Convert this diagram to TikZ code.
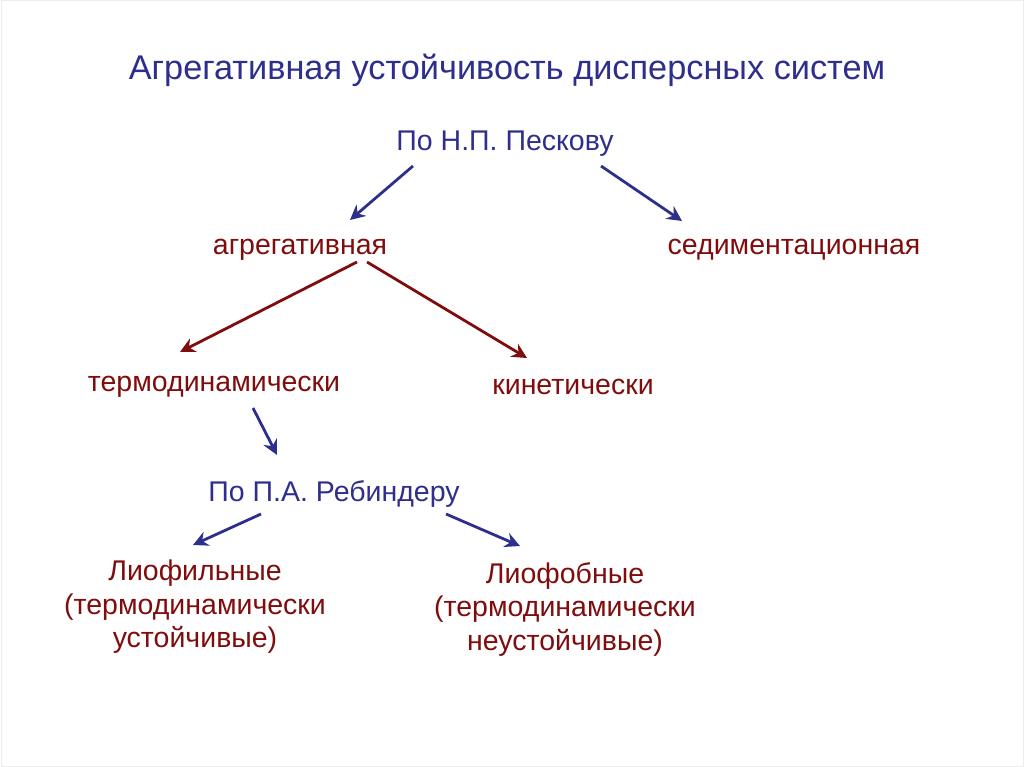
\documentclass[tikz,border=0pt]{standalone}
\usepackage{fontspec}
\setmainfont{Liberation Sans}
\usetikzlibrary{arrows.meta, positioning}
\definecolor{slideBlue}{HTML}{2E2E8C}
\definecolor{slideRed}{HTML}{7F0D0D}
\definecolor{frameGray}{HTML}{EDEDED}

\begin{document}
\begin{tikzpicture}[x=1pt, y=-1pt,
    lbl/.style={font=\fontsize{28.5}{33.5}\selectfont\color{#1}, align=center, inner sep=0pt},
    arr/.style={draw=#1, line width=2.8pt,
                -{Stealth[length=15pt, width=15pt, inset=5pt]}},
  ]
    \useasboundingbox (0,0) rectangle (1024,767);
    \draw[frameGray, line width=1pt] (1,1) rectangle (1023,766);

    \node[font=\fontsize{34.3}{40}\selectfont\color{slideBlue}, inner sep=0pt]
      (title) at (507,70) {Агрегативная устойчивость дисперсных систем};

    \node[lbl=slideBlue] (pesk) at (505,144) {По Н.П. Пескову};
    \node[lbl=slideRed] (agr) at (300,250) {агрегативная};
    \node[lbl=slideRed] (sed) at (794,250) {седиментационная};
    \node[lbl=slideRed] (term) at (214,387) {термодинамически};
    \node[lbl=slideRed] (kin) at (573,387) {кинетически};
    \node[lbl=slideBlue] (reb) at (334,494) {По П.А. Ребиндеру};
    \node[lbl=slideRed] (liofil) at (195,607)
      {Лиофильные\\(термодинамически\\устойчивые)};
    \node[lbl=slideRed] (liofob) at (565,609)
      {Лиофобные\\(термодинамически\\неустойчивые)};

    \draw[arr=slideBlue] ([xshift=-92, yshift=-22]pesk.center) -- ([xshift=50, yshift=30]agr.center);
    \draw[arr=slideBlue] ([xshift=96, yshift=-22]pesk.center) -- ([xshift=-112, yshift=29]sed.center);
    \draw[arr=slideRed] ([xshift=57, yshift=-12]agr.center) -- ([xshift=-34, yshift=35]term.center);
    \draw[arr=slideRed] ([xshift=67, yshift=-12]agr.center) -- ([xshift=-46, yshift=29]kin.center);
    \draw[arr=slideBlue] ([xshift=39, yshift=-21]term.center) -- ([xshift=-57, yshift=39]reb.center);
    \draw[arr=slideBlue] ([xshift=-73, yshift=-20]reb.center) -- ([xshift=-2, yshift=62]liofil.center);
    \draw[arr=slideBlue] ([xshift=112, yshift=-20]reb.center) -- ([xshift=-45, yshift=63]liofob.center);
\end{tikzpicture}
\end{document}
